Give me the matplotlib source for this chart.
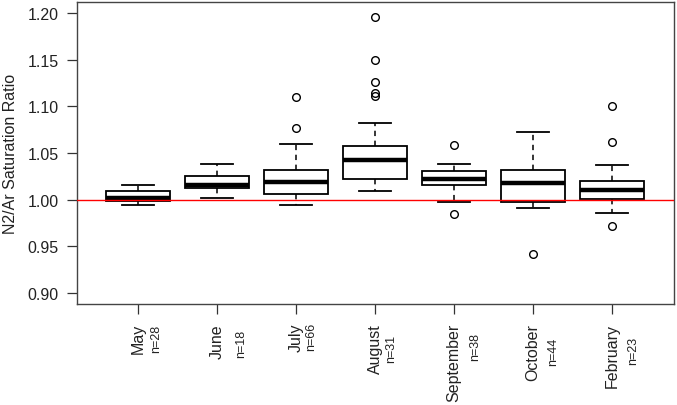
import numpy as np
import matplotlib.pyplot as plt
from matplotlib.transforms import blended_transform_factory

plt.rcParams['font.family'] = ['Liberation Sans', 'DejaVu Sans']

# Data
months = ['May', 'June', 'July', 'August', 'September', 'October', 'February']
counts = [28, 18, 66, 31, 38, 44, 23]
whisker_low = [0.9946, 1.0021, 0.9946, 1.0089, 0.9979, 0.9910, 0.9856]
q1 = [0.9990, 1.0124, 1.0057, 1.0221, 1.0156, 0.9971, 1.0011]
medians = [1.0017, 1.0153, 1.0189, 1.0424, 1.0225, 1.0182, 1.0103]
q3 = [1.0089, 1.0253, 1.0321, 1.0579, 1.0307, 1.0321, 1.0199]
whisker_high = [1.0156, 1.0378, 1.0596, 1.0818, 1.0378, 1.0729, 1.0368]
outliers = [
    [],
    [],
    [1.110, 1.0772],
    [1.1954, 1.1493, 1.1260, 1.1143, 1.1110],
    [1.0585, 0.9846],
    [0.9414],
    [1.1003, 1.0617, 0.9714],
]
yticks = [0.90, 0.95, 1.00, 1.05, 1.10, 1.15, 1.20]

# Label placement tweaks (pixels), as in the original figure
n_dx = [18, 24, 15, 16, 21, 20, 21]
n_top = [325, 330, 323, 335, 333, 338, 337]

W, H = 677, 406
fig = plt.figure(figsize=(W / 100, H / 100), dpi=100)
ax = fig.add_axes([77 / W, 1 - 305 / H, (674 - 77) / W, (305 - 3) / H])

stats = []
for i in range(len(months)):
    stats.append(dict(med=medians[i], q1=q1[i], q3=q3[i],
                      whislo=whisker_low[i], whishi=whisker_high[i],
                      fliers=outliers[i]))
pos = np.arange(1, len(months) + 1)
ax.bxp(stats, positions=pos, widths=0.8, capwidths=0.4, patch_artist=True,
       boxprops=dict(facecolor='white', edgecolor='black', linewidth=1.3),
       whiskerprops=dict(color='black', linewidth=1.1, linestyle=(0, (3.5, 3))),
       capprops=dict(color='black', linewidth=1.3),
       medianprops=dict(color='black', linewidth=3.2, solid_capstyle='butt'),
       flierprops=dict(marker='o', markersize=5.5, markerfacecolor='none',
                       markeredgecolor='black', markeredgewidth=1.0))

ax.axhline(1.0, color='red', linewidth=1.0, zorder=5)

ax.set_xlim(1 - 61 / 79, 7 + 62 / 79)
ax.set_ylim(0.90 - 11 / 933, 1.20 + 11 / 933)
ax.set_yticks(yticks)
ax.set_yticklabels(['%.2f' % v for v in yticks])
ax.set_xticks(pos)
ax.set_xticklabels([])
ax.tick_params(axis='both', length=7.2, width=0.9, color='#333333',
               labelsize=11.5, labelcolor='#222222')
ax.tick_params(axis='y', pad=6)
for s in ax.spines.values():
    s.set_color('#444444')
    s.set_linewidth(1.0)

fig.text(11 / W, 1 - 154 / H, 'N2/Ar Saturation Ratio', rotation=90,
         ha='center', va='center', fontsize=11.5, color='#222222')

trans = blended_transform_factory(ax.transData, fig.transFigure)
for i, (m, n) in enumerate(zip(months, counts)):
    ax.text(pos[i], 1 - 324 / H, m, rotation=90, ha='center', va='top',
            fontsize=11.5, color='#222222', transform=trans)
    ax.text(pos[i] + n_dx[i] / 79, 1 - n_top[i] / H, 'n=%d' % n, rotation=90,
            ha='center', va='top', fontsize=9, color='#222222', transform=trans)

fig.savefig('out.png', dpi=100)
